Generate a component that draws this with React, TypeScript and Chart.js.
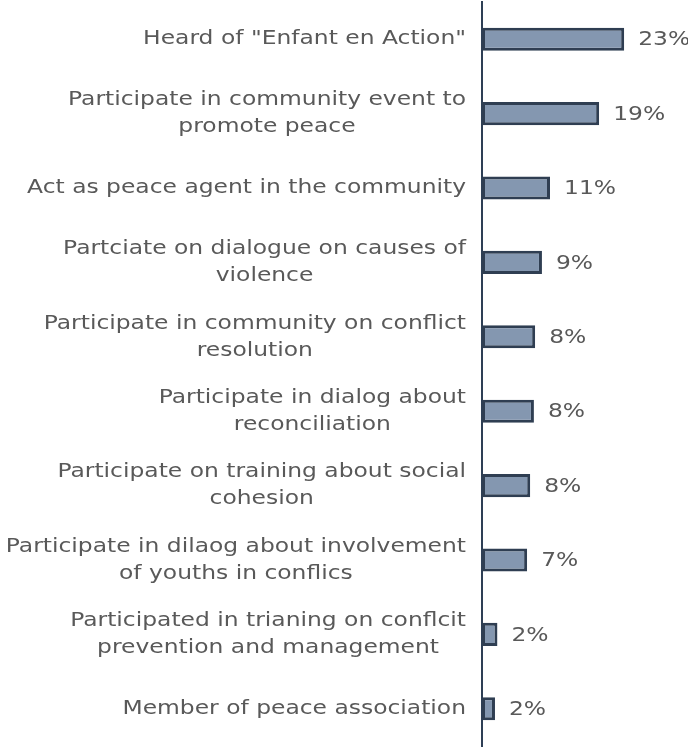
import React, { useEffect, useRef } from "react";
import { Chart, registerables } from "chart.js";

Chart.register(...registerables);

const categories: string[][] = [
  ['Heard of "Enfant en Action"'],
  ["Participate in community event to", "promote peace"],
  ["Act as peace agent in the community"],
  ["Partciate on dialogue on causes of", "violence"],
  ["Participate in community on conflict", "resolution"],
  ["Participate in dialog about", "reconciliation"],
  ["Participate on training about social", "cohesion"],
  ["Participate in dilaog about involvement", "of youths in conflics"],
  ["Participated in trianing on conflcit", "prevention and management"],
  ["Member of peace association"],
];

const values: number[] = [23, 18.95, 11, 9.7, 8.6, 8.4, 7.8, 7.3, 2.5, 2.1];
const valueLabels: string[] = ["23%", "19%", "11%", "9%", "8%", "8%", "8%", "7%", "2%", "2%"];

const FONT = '"DejaVu Sans ExtraLight", "DejaVu Sans", sans-serif';
const FONT_SIZE = 20;
const STRETCH = 1.17;
const TEXT_COLOR = "#595959";

export default function App() {
  const ref = useRef<HTMLCanvasElement | null>(null);

  useEffect(() => {
    document.body.style.margin = "0";
    const canvas = ref.current;
    if (!canvas) return;

    const drawStretched = (ctx: CanvasRenderingContext2D, text: string, x: number, y: number) => {
      ctx.save();
      ctx.translate(x, y);
      ctx.scale(STRETCH, 1);
      ctx.fillText(text, 0, 0);
      ctx.restore();
    };

    const labelPlugin = {
      id: "customLabels",
      afterDraw(chart: any) {
        const ctx = chart.ctx as CanvasRenderingContext2D;
        const yScale = chart.scales.y;
        const xScale = chart.scales.x;
        ctx.save();
        ctx.font = `${FONT_SIZE}px ${FONT}`;
        ctx.fillStyle = TEXT_COLOR;
        ctx.textBaseline = "middle";
        ctx.textAlign = "left";
        const lineH = 27;
        const rightEdge = yScale.right - 16;
        categories.forEach((lines, i) => {
          const cy = yScale.getPixelForValue(i);
          const widths = lines.map((l) => ctx.measureText(l).width * STRETCH);
          const maxW = Math.max(...widths);
          lines.forEach((l, j) => {
            const x = rightEdge - maxW + (maxW - widths[j]) / 2;
            const y = cy + (j - (lines.length - 1) / 2) * lineH;
            drawStretched(ctx, l, x, y);
          });
          drawStretched(ctx, valueLabels[i], xScale.getPixelForValue(values[i]) + 14, cy + 1);
        });
        ctx.restore();
      },
    };

    const chart = new Chart(canvas, {
      type: "bar",
      data: {
        labels: categories.map((c) => c.join(" ")),
        datasets: [
          {
            data: values,
            backgroundColor: "#8497b0",
            borderColor: "#2f3e52",
            borderWidth: 3,
            borderSkipped: false,
            categoryPercentage: 1,
            barPercentage: 0.31,
          },
        ],
      },
      options: {
        indexAxis: "y",
        responsive: false,
        animation: false,
        layout: { padding: { top: 2, bottom: 1, right: 2, left: 0 } },
        plugins: { legend: { display: false }, tooltip: { enabled: false } },
        scales: {
          x: {
            display: false,
            min: 0,
            max: 33,
          },
          y: {
            grid: { display: false, drawTicks: false },
            border: { display: true, color: "#2e3f55", width: 2 },
            ticks: { display: false },
            afterFit(scale: any) {
              scale.width = 482;
            },
          },
        },
      },
      plugins: [labelPlugin],
    });
    return () => chart.destroy();
  }, []);

  return (
    <div style={{ width: 688, height: 747 }}>
      <canvas ref={ref} width={688} height={747} style={{ display: "block" }} />
    </div>
  );
}
